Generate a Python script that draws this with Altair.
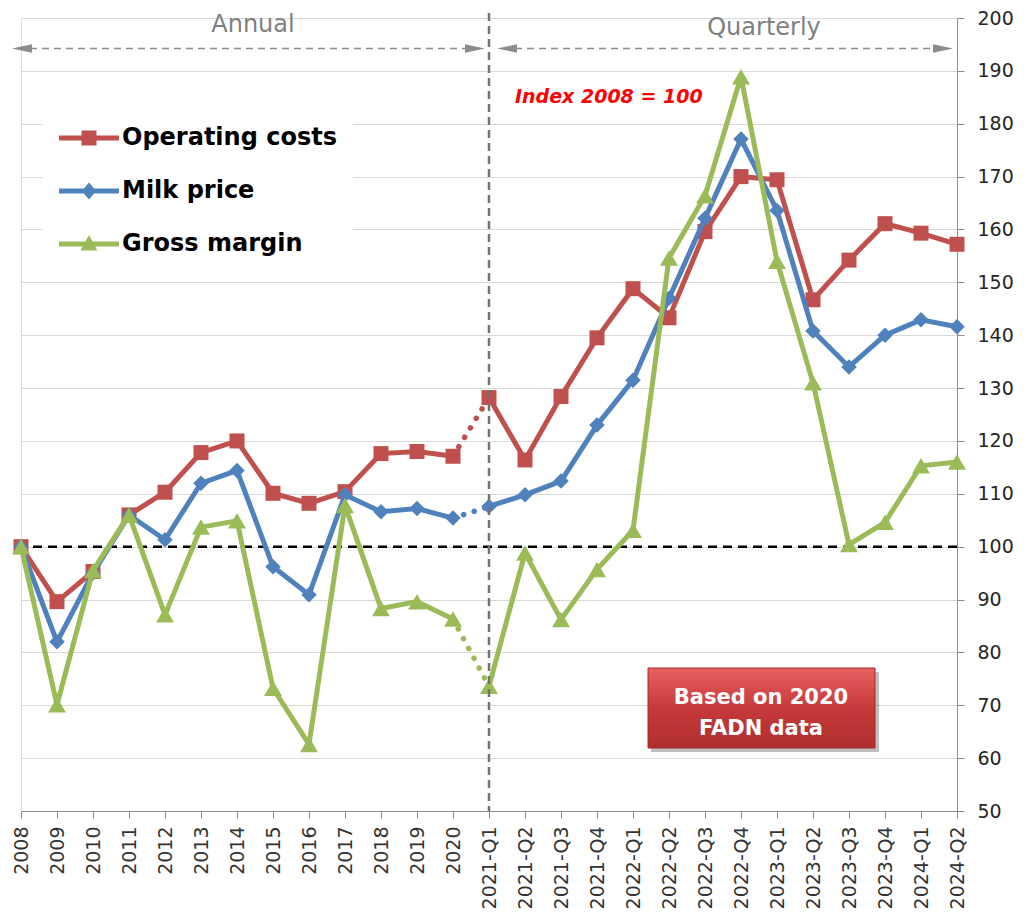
import altair as alt
import pandas as pd

categories = ["2008", "2009", "2010", "2011", "2012", "2013", "2014", "2015", "2016",
              "2017", "2018", "2019", "2020", "2021-Q1", "2021-Q2", "2021-Q3", "2021-Q4",
              "2022-Q1", "2022-Q2", "2022-Q3", "2022-Q4", "2023-Q1", "2023-Q2", "2023-Q3",
              "2023-Q4", "2024-Q1", "2024-Q2"]
series_names = ["Operating costs", "Milk price", "Gross margin"]
operating_costs = [100, 89.6, 95.3, 106.0, 110.3, 117.8, 120.0, 110.1, 108.2, 110.4, 117.6, 118.0, 117.1,
                   128.2, 116.4, 128.4, 139.5, 148.8, 143.3, 159.6, 170.0, 169.4, 146.7, 154.2, 161.1, 159.3, 157.2]
milk_price = [100, 82.0, 95.0, 106.0, 101.3, 112.0, 114.4, 96.2, 90.9, 109.8, 106.6, 107.2, 105.4,
              107.6, 109.8, 112.4, 123.0, 131.5, 147.0, 162.1, 177.1, 163.6, 140.8, 134.0, 140.0, 142.9, 141.6]
gross_margin = [100, 70.1, 95.5, 106.0, 87.1, 103.7, 104.9, 73.2, 62.6, 107.8, 88.3, 89.6, 86.3,
                73.6, 98.8, 86.2, 95.7, 103.1, 154.6, 166.4, 188.9, 154.0, 131.0, 100.4, 104.6, 115.3, 116.0]
series_colors = ["#C0504D", "#4F81BD", "#9BBB59"]
marker_shapes = ["square", "diamond", "triangle-up"]
marker_sizes = [225, 240, 320]
annual_end = "2020"
quarterly_start = "2021-Q1"
y_ticks = list(range(50, 201, 10))

rows = []
for name, vals in zip(series_names, [operating_costs, milk_price, gross_margin]):
    for i, (c, v) in enumerate(zip(categories, vals)):
        seg = "annual" if i <= categories.index(annual_end) else "quarterly"
        rows.append(dict(cat=c, value=v, series=name, seg=seg))
        if c in (annual_end, quarterly_start):
            rows.append(dict(cat=c, value=v, series=name, seg="bridge"))
df = pd.DataFrame(rows)

FONT = "DejaVu Sans"

x_enc = alt.X("cat:O", scale=alt.Scale(type="point", domain=categories, padding=0),
              axis=alt.Axis(title=None, labelAngle=270, labelFont=FONT, labelFontSize=19,
                            labelColor="#333333", domainColor="#8c8c8c", tickColor="#8c8c8c",
                            tickSize=7, labelPadding=8, grid=False, labelOverlap=False))
y_enc = alt.Y("value:Q", scale=alt.Scale(domain=[50, 200], nice=False, zero=False),
              axis=alt.Axis(title=None, orient="right", values=y_ticks, labelFont=FONT,
                            labelFontSize=19, labelColor="#262626", domainColor="#8c8c8c",
                            tickColor="#8c8c8c", tickSize=7, labelPadding=13, grid=True,
                            gridColor="#d9d9d9", gridWidth=1))

# legend symbols: line with marker
LINE = "M-1,-0.125H2V0.125H-1Z "
p_sq = LINE + "M0.125,-0.375H0.875V0.375H0.125Z"
p_di = LINE + "M0.5,-0.42L0.86,0L0.5,0.42L0.14,0Z"
p_tr = LINE + "M0.5,-0.45L0.92,0.32H0.08Z"
shape_expr = ("datum.value == 'Operating costs' ? '%s' : datum.value == 'Milk price' ? '%s' : '%s'"
              % (p_sq, p_di, p_tr))

legend = alt.Legend(title=None, orient="none", legendX=22, legendY=84, fillColor="white",
                    padding=16, labelFont=FONT, labelFontWeight="bold", labelFontSize=24,
                    labelColor="#000000", labelLimit=500, symbolSize=1600, symbolStrokeWidth=0,
                    symbolType={"expr": shape_expr}, symbolOpacity=1,
                    labelOffset=23, rowPadding=21)

color_enc = alt.Color("series:N", scale=alt.Scale(domain=series_names, range=series_colors),
                      legend=legend)

layers = []

# reference line at 100
ref = alt.Chart(pd.DataFrame({"value": [100]})).mark_rule(
    color="black", strokeWidth=2.5, strokeDash=[9, 6]).encode(y=y_enc)
layers.append(ref)

for name, color, shp, size in zip(series_names, series_colors, marker_shapes, marker_sizes):
    base = alt.Chart(df).transform_filter(alt.datum.series == name)
    solid = base.transform_filter(alt.datum.seg != "bridge").mark_line(
        color=color, strokeWidth=5).encode(x=x_enc, y=y_enc, detail="seg:N")
    dotted = base.transform_filter(alt.datum.seg == "bridge").mark_line(
        color=color, strokeWidth=5.5, strokeDash=[0.1, 11], strokeCap="round").encode(x=x_enc, y=y_enc)
    pts = base.transform_filter(alt.datum.seg != "bridge").mark_point(
        filled=True, opacity=1, size=size, shape=shp).encode(x=x_enc, y=y_enc, color=color_enc)
    layers += [solid, dotted, pts]

# vertical separator
vsep = alt.Chart(pd.DataFrame({"cat": [quarterly_start]})).mark_rule(
    color="#737373", strokeWidth=2.5, strokeDash=[8, 5]).encode(
    x=x_enc, y=alt.value(-5), y2=alt.value(793))
layers.append(vsep)

one = pd.DataFrame({"a": [0]})
ARROW_GRAY = "#8c8c8c"
# period arrows
for x1, x2 in [(-9, 464), (476, 932)]:
    layers.append(alt.Chart(one).mark_rule(color=ARROW_GRAY, strokeWidth=1.5, strokeDash=[7, 5]).encode(
        x=alt.value(x1 + 6), x2=alt.value(x2 - 6), y=alt.value(30.5)))
    layers.append(alt.Chart(one).mark_point(shape="M-1,0L1,-0.42L1,0.42Z", size=400, filled=True,
                                            opacity=1, color=ARROW_GRAY).encode(
        x=alt.value(x1 + 10), y=alt.value(30.5)))
    layers.append(alt.Chart(one).mark_point(shape="M1,0L-1,-0.42L-1,0.42Z", size=400, filled=True,
                                            opacity=1, color=ARROW_GRAY).encode(
        x=alt.value(x2 - 10), y=alt.value(30.5)))

period_labels = pd.DataFrame({"t": ["Annual", "Quarterly"], "x": [232, 743], "y": [13.7, 16.5]})
for _, r in period_labels.iterrows():
    layers.append(alt.Chart(pd.DataFrame({"t": [r.t]})).mark_text(
        font=FONT, fontSize=24, color="#808080", align="center", baseline="alphabetic").encode(
        text="t:N", x=alt.value(r.x), y=alt.value(r.y)))

layers.append(alt.Chart(pd.DataFrame({"t": ["Index 2008 = 100"]})).mark_text(
    font=FONT, fontSize=19, fontWeight="bold", fontStyle="italic", color="#ff0000",
    align="left", baseline="alphabetic").encode(text="t:N", x=alt.value(494), y=alt.value(84.5)))

# FADN box
layers.append(alt.Chart(one).mark_rect(color="#000000", opacity=0.25).encode(
    x=alt.value(630), x2=alt.value(858), y=alt.value(654), y2=alt.value(734)))
grad = alt.LinearGradient(gradient="linear",
                          stops=[alt.GradientStop(color="#e86060", offset=0),
                                 alt.GradientStop(color="#c63a3a", offset=0.5),
                                 alt.GradientStop(color="#b02e2e", offset=1)],
                          x1=0, x2=0, y1=0, y2=1)
layers.append(alt.Chart(one).mark_rect(color=grad, stroke="#a02a2a", strokeWidth=1).encode(
    x=alt.value(627), x2=alt.value(854), y=alt.value(650), y2=alt.value(730)))
for txt, yy in [("Based on 2020", 685.5), ("FADN data", 717)]:
    layers.append(alt.Chart(pd.DataFrame({"t": [txt]})).mark_text(
        font=FONT, fontSize=21, fontWeight="bold", color="white", align="center",
        baseline="alphabetic").encode(text="t:N", x=alt.value(740), y=alt.value(yy)))

chart = alt.layer(*layers).properties(
    width=936, height=793,
    autosize=alt.AutoSizeParams(type="none"),
    padding={"left": 13, "top": 10, "right": 62, "bottom": 98},
).configure_view(stroke=None).configure(background="white")

chart.save("out.html", embed_options={"renderer": "svg", "actions": False})
